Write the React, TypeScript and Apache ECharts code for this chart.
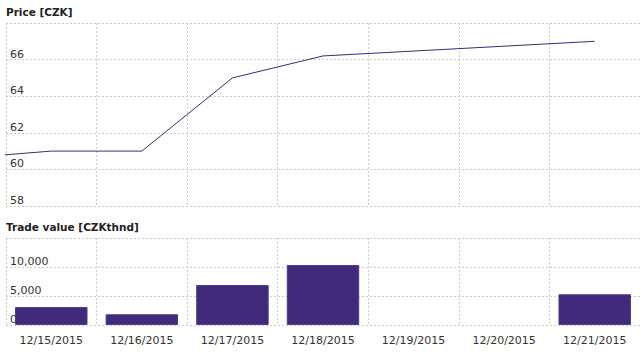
import React, { useEffect, useRef } from "react";
import * as echarts from "echarts";

const dates = ["12/15/2015", "12/16/2015", "12/17/2015", "12/18/2015", "12/19/2015", "12/20/2015", "12/21/2015"];
const prices: (number | null)[] = [61.0, 61.0, 65.0, 66.2, null, null, 67.0];
const pricePrevDay = 60.6;
const tradeValues: (number | null)[] = [3100, 1850, 6900, 10350, null, null, 5300];
const priceTicks = [58, 60, 62, 64, 66, 68];
const tradeTicks = [0, 5000, 10000, 15000];

const FONT = "DejaVu Sans, Verdana, sans-serif";
const GRID_LINE = { show: true, lineStyle: { color: "#cccccc", type: [2, 2] as any, width: 1 } };

export default function App() {
  const ref = useRef<HTMLDivElement>(null);
  useEffect(() => {
    document.body.style.margin = "0";
    const chart = echarts.init(ref.current!, null, { renderer: "svg" });
    const lineData: [number, number][] = [[-0.5, pricePrevDay]];
    prices.forEach((p, i) => {
      if (p !== null) lineData.push([i + 0.5, p]);
    });
    chart.setOption({
      animation: false,
      textStyle: { fontFamily: FONT },
      title: [
        { text: "Price [CZK]", left: 6, top: 6, padding: 0, textStyle: { fontSize: 10.5, fontWeight: "bold", color: "#222", fontFamily: FONT } },
        { text: "Trade value [CZKthnd]", left: 6, top: 221, padding: 0, textStyle: { fontSize: 10.5, fontWeight: "bold", color: "#222", fontFamily: FONT } },
      ],
      grid: [
        { left: 6, right: 0, top: 23, height: 183 },
        { left: 6, right: 0, top: 238, height: 87 },
      ],
      xAxis: [
        {
          type: "value", gridIndex: 0, min: 0, max: dates.length, interval: 1,
          axisLabel: { show: false }, axisLine: { show: false }, axisTick: { show: false },
          splitLine: GRID_LINE,
        },
        {
          type: "category", gridIndex: 1, data: dates, boundaryGap: true,
          axisLine: { show: false }, axisTick: { show: false },
          axisLabel: { color: "#333", fontSize: 11, margin: 10, fontFamily: FONT },
          splitLine: GRID_LINE,
        },
      ],
      yAxis: [
        {
          type: "value", gridIndex: 0, min: priceTicks[0], max: priceTicks[priceTicks.length - 1], interval: 2,
          axisLine: { show: false }, axisTick: { show: false },
          axisLabel: { inside: true, showMaxLabel: false, verticalAlign: "bottom", margin: 4, color: "#333", fontSize: 11, fontFamily: FONT },
          splitLine: GRID_LINE,
        },
        {
          type: "value", gridIndex: 1, min: tradeTicks[0], max: tradeTicks[tradeTicks.length - 1], interval: 5000,
          axisLine: { show: false }, axisTick: { show: false },
          axisLabel: {
            inside: true, showMaxLabel: false, verticalAlign: "bottom", margin: 4, color: "#333", fontSize: 11, fontFamily: FONT,
            formatter: (v: number) => v.toLocaleString("en-US"),
          },
          splitLine: GRID_LINE,
        },
      ],
      series: [
        {
          type: "line", xAxisIndex: 0, yAxisIndex: 0, data: lineData, showSymbol: false, clip: true,
          lineStyle: { color: "#3d2a78", width: 1 }, itemStyle: { color: "#3d2a78" },
        },
        {
          type: "bar", xAxisIndex: 1, yAxisIndex: 1, data: tradeValues, barWidth: "80%",
          itemStyle: { color: "#412a7b", borderColor: "#4f3d88", borderWidth: 1 },
        },
      ],
    });
    return () => chart.dispose();
  }, []);
  return <div ref={ref} style={{ width: 640, height: 353 }} />;
}
